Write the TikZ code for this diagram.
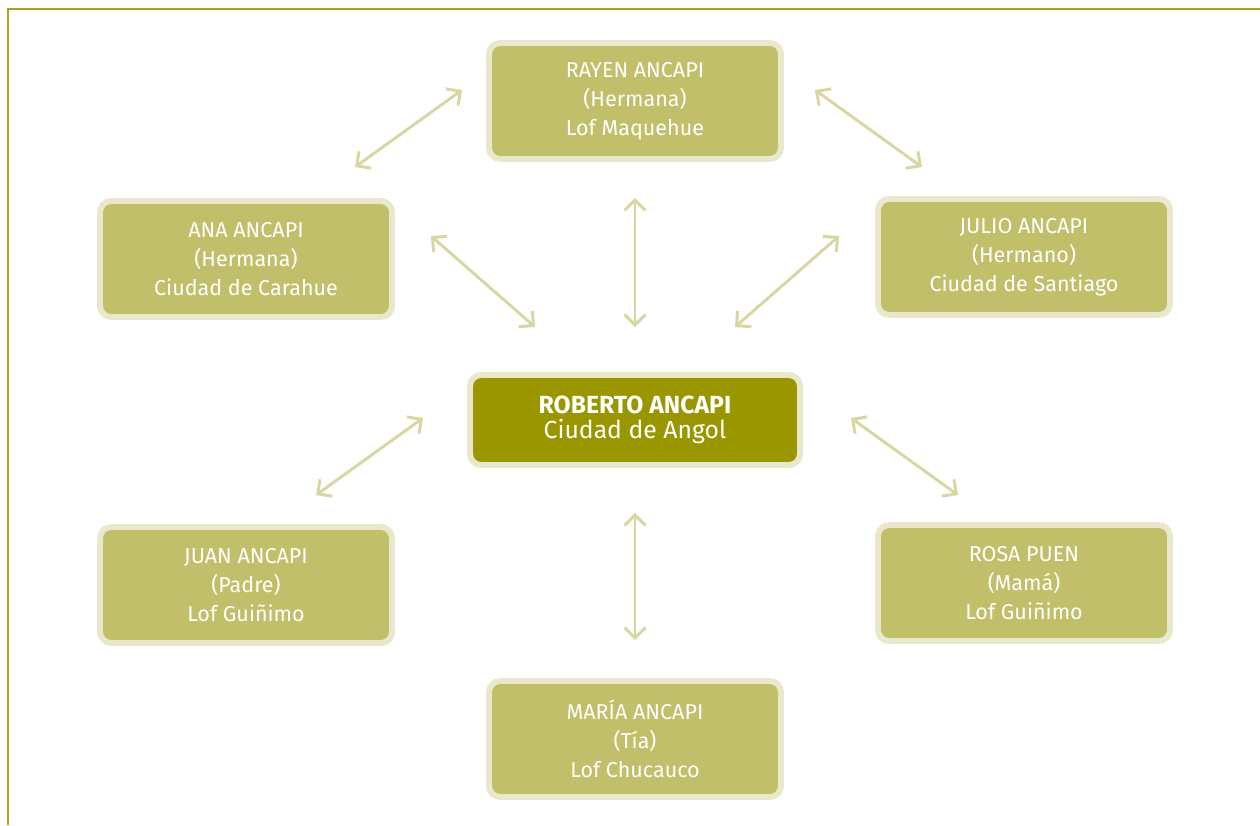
\documentclass[tikz,border=0pt]{standalone}
\usepackage{fontspec}
\setmainfont{Fira Sans}
\usetikzlibrary{arrows.meta}
\definecolor{olivefill}{HTML}{C2BF6A}
\definecolor{olivedark}{HTML}{999600}
\definecolor{olivepale}{HTML}{EAE8CC}
\definecolor{olivearrow}{HTML}{D8D7A2}
\definecolor{oliveframe}{HTML}{A6A324}
\tikzset{
  person/.style={draw=olivepale, fill=olivefill, line width=4.2pt, rounded corners=8pt,
    minimum width=7.3cm, minimum height=2.9cm, text=white, align=center,
    font=\fontsize{15.3}{20.6}\selectfont},
  main/.style={person, fill=olivedark, minimum width=8.25cm, minimum height=2.25cm,
    font=\fontsize{17.6}{17.8}\selectfont},
  link/.style={olivearrow, line width=2.1pt, {Straight Barb[length=2.6mm,width=5.2mm]}-{Straight Barb[length=2.6mm,width=5.2mm]}}
}
\begin{document}
\begin{tikzpicture}[x=0.025cm, y=-0.025cm]
  \useasboundingbox (0,0) rectangle (1260,825);
  \draw[oliveframe, line width=1.4pt] (8,825) -- (8,9) -- (1260,9);
  \node[person] (rayen) at (635,101) {RAYEN ANCAPI\\(Hermana)\\Lof Maquehue};
  \node[person] (ana) at (246,259) {ANA ANCAPI\\(Hermana)\\Ciudad de Carahue};
  \node[person] (julio) at (1024,257) {JULIO ANCAPI\\(Hermano)\\Ciudad de Santiago};
  \node[main] (roberto) at (635,420) {\textbf{ROBERTO ANCAPI}\\Ciudad de Angol};
  \node[person] (juan) at (246,585) {JUAN ANCAPI\\(Padre)\\Lof Guiñimo};
  \node[person] (rosa) at (1024,583) {ROSA PUEN\\(Mamá)\\Lof Guiñimo};
  \node[person] (maria) at (635,739) {MARÍA ANCAPI\\(Tía)\\Lof Chucauco};
  \draw[link] ([shift={(-24,-11)}]rayen.west) -- ([shift={(109,-31)}]ana.north);
  \draw[link] ([shift={(31,-11)}]rayen.east) -- ([shift={(-102,-29)}]julio.north);
  \draw[link] ([shift={(0,36)}]rayen.south) -- ([shift={(0,-45)}]roberto.north);
  \draw[link] ([shift={(36,-23)}]ana.east) -- ([shift={(68,-45)}]roberto.north west);
  \draw[link] ([shift={(-36,-21)}]julio.west) -- ([shift={(-68,-45)}]roberto.north east);
  \draw[link] ([shift={(-44,-2)}]roberto.west) -- ([shift={(70,-29)}]juan.north);
  \draw[link] ([shift={(48,-2)}]roberto.east) -- ([shift={(-66,-27)}]rosa.north);
  \draw[link] ([shift={(0,45)}]roberto.south) -- ([shift={(0,-38)}]maria.north);
\end{tikzpicture}
\end{document}
